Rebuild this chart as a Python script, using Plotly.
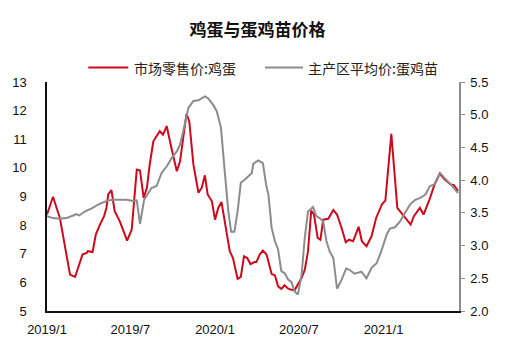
import plotly.graph_objects as go

egg_dates = ["2019-01-01","2019-01-14","2019-01-29","2019-02-09","2019-02-20","2019-03-03","2019-03-10","2019-03-19","2019-03-28","2019-03-31",
             "2019-04-10","2019-04-17","2019-04-26","2019-05-05","2019-05-10","2019-05-14","2019-05-21","2019-05-28","2019-06-08","2019-06-24",
             "2019-07-04","2019-07-15","2019-07-22","2019-07-30","2019-08-06","2019-08-12","2019-08-20","2019-09-03","2019-09-10","2019-09-18",
             "2019-09-29","2019-10-10","2019-10-17","2019-10-31","2019-11-06","2019-11-15","2019-11-26","2019-12-03","2019-12-10","2019-12-16",
             "2019-12-25","2020-01-01","2020-01-08","2020-01-15","2020-01-22","2020-02-02","2020-02-09","2020-02-19","2020-02-26","2020-03-04",
             "2020-03-11","2020-03-18","2020-03-27","2020-03-31","2020-04-07","2020-04-14","2020-04-22","2020-05-03","2020-05-10","2020-05-17",
             "2020-05-24","2020-05-31","2020-06-08","2020-06-15","2020-06-22","2020-06-29","2020-07-07","2020-07-14","2020-07-21","2020-07-28",
             "2020-08-03","2020-08-11","2020-08-17","2020-08-23","2020-09-03","2020-09-14","2020-09-22","2020-10-02","2020-10-11","2020-10-18",
             "2020-10-27","2020-11-08","2020-11-15","2020-11-25","2020-12-06","2020-12-16","2020-12-29","2021-01-05","2021-01-18","2021-01-31",
             "2021-02-12","2021-03-01","2021-03-08","2021-03-21","2021-03-29","2021-04-11","2021-04-22","2021-05-03","2021-05-14","2021-05-27",
             "2021-06-03","2021-06-12"]
egg_price = [8.37,8.99,8.25,7.32,6.27,6.19,6.5,6.97,7.03,7.09,
             7.06,7.67,8.02,8.31,8.6,9.07,9.22,8.49,8.14,7.46,
             7.84,9.94,9.91,8.95,9.3,10.1,10.93,11.28,11.16,11.46,
             10.64,9.88,10.23,11.89,11.63,10.12,9.13,9.3,9.74,9.07,
             8.84,8.19,8.6,8.81,8.14,7.09,6.85,6.12,6.19,6.91,
             6.85,6.64,6.71,6.71,6.97,7.11,6.97,6.29,6.25,5.86,
             5.77,5.9,5.78,5.74,5.73,5.92,6.15,6.44,7.09,8.51,
             8.37,7.55,7.49,8.19,8.22,8.53,8.37,7.9,7.4,7.49,
             7.44,7.94,7.44,7.26,7.61,8.25,8.74,8.86,11.19,8.6,
             8.37,8.02,8.31,8.6,8.37,8.9,9.42,9.8,9.59,9.42,
             9.4,9.19]

chick_dates = ["2019-01-01","2019-01-14","2019-01-29","2019-02-12","2019-02-27","2019-03-05","2019-03-12","2019-03-24","2019-04-08","2019-04-26",
               "2019-05-14","2019-05-25","2019-06-23","2019-07-07","2019-07-15","2019-07-22","2019-07-31","2019-08-09","2019-08-16","2019-08-27",
               "2019-09-07","2019-09-18","2019-09-29","2019-10-10","2019-10-17","2019-10-24","2019-11-04","2019-11-15","2019-11-26","2019-12-03",
               "2019-12-10","2019-12-17","2019-12-28","2020-01-05","2020-01-14","2020-01-22","2020-01-30","2020-02-05","2020-02-12","2020-02-19",
               "2020-02-26","2020-03-06","2020-03-15","2020-03-21","2020-03-24","2020-04-04","2020-04-14","2020-04-21","2020-04-26","2020-05-03",
               "2020-05-10","2020-05-17","2020-05-24","2020-05-31","2020-06-08","2020-06-15","2020-06-22","2020-06-29","2020-07-07","2020-07-14",
               "2020-07-21","2020-08-01","2020-08-08","2020-08-15","2020-08-23","2020-08-30","2020-09-06","2020-09-14","2020-09-22","2020-10-02",
               "2020-10-12","2020-10-19","2020-10-30","2020-11-14","2020-11-25","2020-12-06","2020-12-17","2020-12-27","2021-01-08","2021-01-15",
               "2021-01-26","2021-02-06","2021-02-17","2021-02-28","2021-03-11","2021-03-22","2021-04-02","2021-04-12","2021-04-23","2021-05-04",
               "2021-05-14","2021-05-29","2021-06-12"]
chick_price = [3.45,3.42,3.41,3.42,3.46,3.48,3.46,3.52,3.57,3.64,
               3.69,3.70,3.70,3.68,3.69,3.33,3.70,3.80,3.88,3.91,
               4.11,4.21,4.34,4.44,4.54,4.75,5.10,5.21,5.22,5.25,
               5.28,5.25,5.15,5.05,4.80,4.14,3.52,3.21,3.21,3.52,
               3.96,4.01,4.08,4.11,4.25,4.30,4.26,3.93,3.78,3.27,
               3.07,2.94,2.61,2.58,2.48,2.44,2.30,2.25,2.55,3.12,
               3.52,3.59,3.45,3.42,3.37,3.07,2.91,2.81,2.34,2.48,
               2.65,2.63,2.57,2.60,2.50,2.66,2.73,2.91,3.17,3.26,
               3.28,3.37,3.50,3.63,3.70,3.73,3.78,3.91,3.94,4.11,
               4.03,3.92,3.80]

tick_vals = ["2019-01-01","2019-07-01","2020-01-01","2020-07-01","2021-01-01"]
tick_text = ["2019/1","2019/7","2020/1","2020/7","2021/1"]

egg_name = "市场零售价:鸡蛋"
chick_name = "主产区平均价:蛋鸡苗"
RED = "#cc0a1e"
GRAY = "#8c8c8c"

FONT = "Liberation Sans, Arial, Noto Sans CJK SC, sans-serif"
CJK = "Noto Sans CJK SC, sans-serif"

fig = go.Figure()
fig.add_trace(go.Scatter(x=chick_dates, y=chick_price, name=chick_name, mode="lines",
                         line=dict(color=GRAY, width=2), yaxis="y2"))
fig.add_trace(go.Scatter(x=egg_dates, y=egg_price, name=egg_name, mode="lines",
                         line=dict(color=RED, width=2)))

# custom legend (line samples + labels) placed above the plot area
LEG_Y = 1.063
fig.add_shape(type="line", xref="paper", yref="paper", x0=0.1002, x1=0.1973, y0=LEG_Y, y1=LEG_Y,
              line=dict(color=RED, width=2))
fig.add_shape(type="line", xref="paper", yref="paper", x0=0.5291, x1=0.6214, y0=LEG_Y, y1=LEG_Y,
              line=dict(color=GRAY, width=2))
fig.add_annotation(text=egg_name, xref="paper", yref="paper", x=0.208, y=LEG_Y, xanchor="left",
                   yanchor="middle", showarrow=False, borderpad=0,
                   font=dict(family=CJK, size=14, color="#222222"))
fig.add_annotation(text=chick_name, xref="paper", yref="paper", x=0.6303, y=LEG_Y, xanchor="left",
                   yanchor="middle", showarrow=False, borderpad=0,
                   font=dict(family=CJK, size=14, color="#222222"))

fig.update_layout(
    width=515, height=358,
    margin=dict(l=47, r=56, t=82, b=47, autoexpand=False),
    paper_bgcolor="white", plot_bgcolor="white",
    font=dict(family=FONT, size=13, color="#111111"),
    title=dict(text="<b>鸡蛋与蛋鸡苗价格</b>", x=0.5, xanchor="center", y=0.916, yanchor="middle",
               font=dict(family=CJK, size=17, color="#111111", weight=900)),
    showlegend=False,
    xaxis=dict(type="date", range=["2019-01-01", "2021-06-14"], tickvals=tick_vals, ticktext=tick_text,
               showgrid=False, zeroline=False, showline=True, linecolor="#111111", linewidth=1.5,
               ticks="", ticklabelstandoff=6, tickfont=dict(size=13, color="#111111")),
    yaxis=dict(range=[5, 13], dtick=1, showgrid=False, zeroline=False, showline=True,
               linecolor="#111111", linewidth=1.5, ticks="", ticklabelstandoff=16,
               tickfont=dict(size=13, color="#111111")),
    yaxis2=dict(range=[2.0, 5.5], dtick=0.5, tickformat=".1f", overlaying="y", side="right",
                showgrid=False, zeroline=False, showline=True, linecolor=GRAY, linewidth=1.5,
                ticks="outside", ticklen=4, tickcolor=GRAY, ticklabelstandoff=3,
                tickfont=dict(size=13, color="#111111")),
)

fig.write_html("out.html", config={"displayModeBar": False},
               post_script="document.body.style.margin='0px';")
